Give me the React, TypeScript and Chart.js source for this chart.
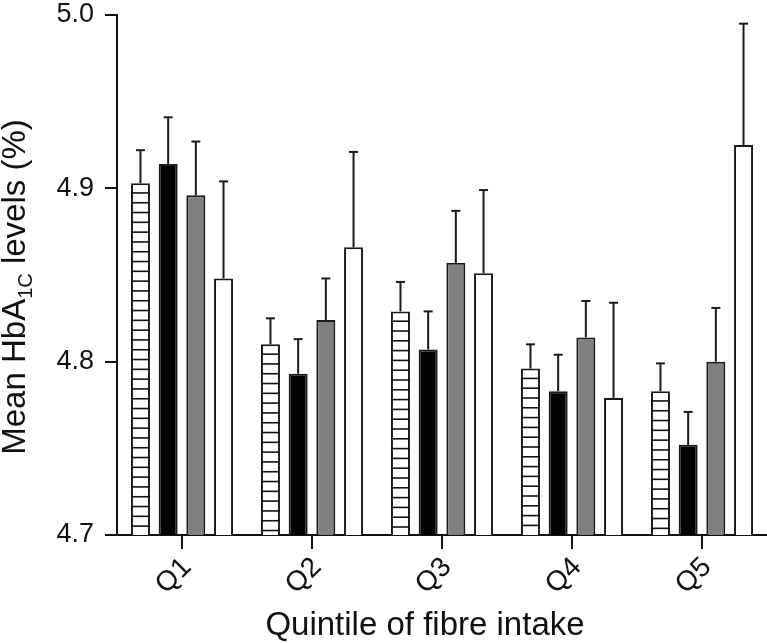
import React, { useEffect, useRef } from "react";
import { Chart, registerables } from "chart.js";

Chart.register(...registerables);

// ---- data ----
const categories = ["Q1", "Q2", "Q3", "Q4", "Q5"];
const seriesNames = ["Group A", "Group B", "Group C", "Group D"];
const hatchedMeans = [4.903, 4.81, 4.829, 4.796, 4.783];
const hatchedErr = [0.019, 0.015, 0.017, 0.014, 0.016];
const blackMeans = [4.914, 4.793, 4.807, 4.783, 4.752];
const blackErr = [0.027, 0.02, 0.022, 0.021, 0.019];
const greyMeans = [4.896, 4.824, 4.857, 4.814, 4.8];
const greyErr = [0.031, 0.024, 0.03, 0.021, 0.031];
const whiteMeans = [4.848, 4.866, 4.851, 4.779, 4.925];
const whiteErr = [0.056, 0.055, 0.048, 0.055, 0.07];
const yTickValues = [4.7, 4.8, 4.9, 5.0];
const yTitleMain = "Mean HbA";
const yTitleSub = "1C";
const yTitleRest = " levels (%)";
const xTitle = "Quintile of fibre intake";

const FONT = '"Liberation Sans", Arial, Helvetica, sans-serif';
const INK = "#111111";

const errorsBySeries = [hatchedErr, blackErr, greyErr, whiteErr];

const hatchPlugin = {
  id: "hatch",
  afterDatasetDraw(chart: any, args: any) {
    if (args.index !== 0) return;
    const ctx = chart.ctx;
    const meta = chart.getDatasetMeta(0);
    const bottom = chart.chartArea.bottom;
    ctx.save();
    ctx.strokeStyle = INK;
    ctx.lineWidth = 1.6;
    meta.data.forEach((el: any) => {
      const p = el.getProps(["x", "y", "base", "width"], true);
      const left = p.x - p.width / 2;
      const right = p.x + p.width / 2;
      const base = Math.min(p.base, bottom);
      const step = 9.8;
      for (let yy = p.y + step; yy < base - 3; yy += step) {
        ctx.beginPath();
        ctx.moveTo(left, yy);
        ctx.lineTo(right, yy);
        ctx.stroke();
      }
    });
    ctx.restore();
  },
};

const errorBarPlugin = {
  id: "errorBars",
  afterDatasetsDraw(chart: any) {
    const ctx = chart.ctx;
    const yScale = chart.scales.y;
    ctx.save();
    ctx.strokeStyle = "#1a1a1a";
    ctx.lineWidth = 2;
    chart.data.datasets.forEach((ds: any, i: number) => {
      const meta = chart.getDatasetMeta(i);
      const errs = errorsBySeries[i];
      meta.data.forEach((el: any, j: number) => {
        const v = ds.data[j] as number;
        const yTop = yScale.getPixelForValue(v + errs[j]);
        const yBar = el.y;
        ctx.beginPath();
        ctx.moveTo(el.x, yBar);
        ctx.lineTo(el.x, yTop);
        ctx.stroke();
        ctx.beginPath();
        ctx.moveTo(el.x - 4.5, yTop);
        ctx.lineTo(el.x + 4.5, yTop);
        ctx.stroke();
      });
    });
    ctx.restore();
  },
};

const titlesPlugin = {
  id: "axisTitles",
  afterDraw(chart: any) {
    const ctx = chart.ctx;
    const area = chart.chartArea;
    ctx.save();
    ctx.fillStyle = INK;
    // x title
    ctx.font = `33px ${FONT}`;
    ctx.textAlign = "center";
    ctx.textBaseline = "alphabetic";
    ctx.fillText(xTitle, area.left + 308, 635);
    // y title (rotated, with subscript)
    ctx.translate(25, area.top + 272);
    ctx.rotate(-Math.PI / 2);
    ctx.textAlign = "left";
    ctx.font = `33px ${FONT}`;
    const w1 = ctx.measureText(yTitleMain).width;
    const w3 = ctx.measureText(yTitleRest).width;
    ctx.font = `20px ${FONT}`;
    const w2 = ctx.measureText(yTitleSub).width;
    const total = w1 + w2 + w3;
    let x = -total / 2;
    ctx.font = `33px ${FONT}`;
    ctx.fillText(yTitleMain, x, 0);
    x += w1;
    ctx.font = `20px ${FONT}`;
    ctx.fillText(yTitleSub, x, 7);
    x += w2;
    ctx.font = `33px ${FONT}`;
    ctx.fillText(yTitleRest, x, 0);
    ctx.restore();
  },
};

export default function App() {
  const ref = useRef<HTMLCanvasElement | null>(null);

  useEffect(() => {
    if (!ref.current) return;
    const barCommon = {
      borderColor: "#1a1a1a",
      borderWidth: 2,
      categoryPercentage: 0.852,
      barPercentage: 0.686,
      borderSkipped: "start" as const,
    };
    const chart = new Chart(ref.current, {
      type: "bar",
      data: {
        labels: categories,
        datasets: [
          { label: seriesNames[0], data: hatchedMeans, backgroundColor: "#ffffff", ...barCommon },
          { label: seriesNames[1], data: blackMeans, backgroundColor: "#030303", ...barCommon },
          { label: seriesNames[2], data: greyMeans, backgroundColor: "#808080", ...barCommon },
          { label: seriesNames[3], data: whiteMeans, backgroundColor: "#ffffff", ...barCommon },
        ],
      },
      options: {
        responsive: false,
        animation: false,
        layout: { padding: { top: 15, left: 0, right: 0, bottom: 0 } },
        plugins: {
          legend: { display: false },
          tooltip: { enabled: false },
          title: { display: false },
        },
        scales: {
          x: {
            offset: true,
            grid: {
              display: true,
              offset: false,
              drawOnChartArea: false,
              drawTicks: true,
              tickLength: 14,
              color: INK,
              tickColor: INK,
              lineWidth: 2,
            },
            border: { display: true, color: INK, width: 2 },
            ticks: {
              minRotation: 45,
              maxRotation: 45,
              padding: 2,
              labelOffset: 5,
              color: INK,
              font: { family: FONT, size: 28 },
            },
            afterFit: (scale: any) => {
              scale.height = 108;
              scale.paddingLeft = 0;
              scale.paddingRight = 0;
            },
          },
          y: {
            min: yTickValues[0],
            max: yTickValues[yTickValues.length - 1],
            grid: {
              display: true,
              drawOnChartArea: false,
              drawTicks: true,
              tickLength: 12,
              color: INK,
              tickColor: INK,
              lineWidth: 2,
            },
            border: { display: true, color: INK, width: 2 },
            afterBuildTicks: (scale: any) => {
              scale.ticks = yTickValues.map((v) => ({ value: v }));
            },
            ticks: {
              padding: 11,
              color: INK,
              font: { family: FONT, size: 27 },
              callback: (v: any) => Number(v).toFixed(1),
            },
            afterFit: (scale: any) => {
              scale.width = 117;
              scale.paddingTop = 0;
              scale.paddingBottom = 0;
            },
          },
        },
      },
      plugins: [hatchPlugin, errorBarPlugin, titlesPlugin],
    });
    return () => chart.destroy();
  }, []);

  return (
    <div style={{ position: "absolute", left: 0, top: 0, width: 767, height: 643, background: "#fff" }}>
      <canvas ref={ref} width={767} height={643} style={{ display: "block" }} />
    </div>
  );
}
